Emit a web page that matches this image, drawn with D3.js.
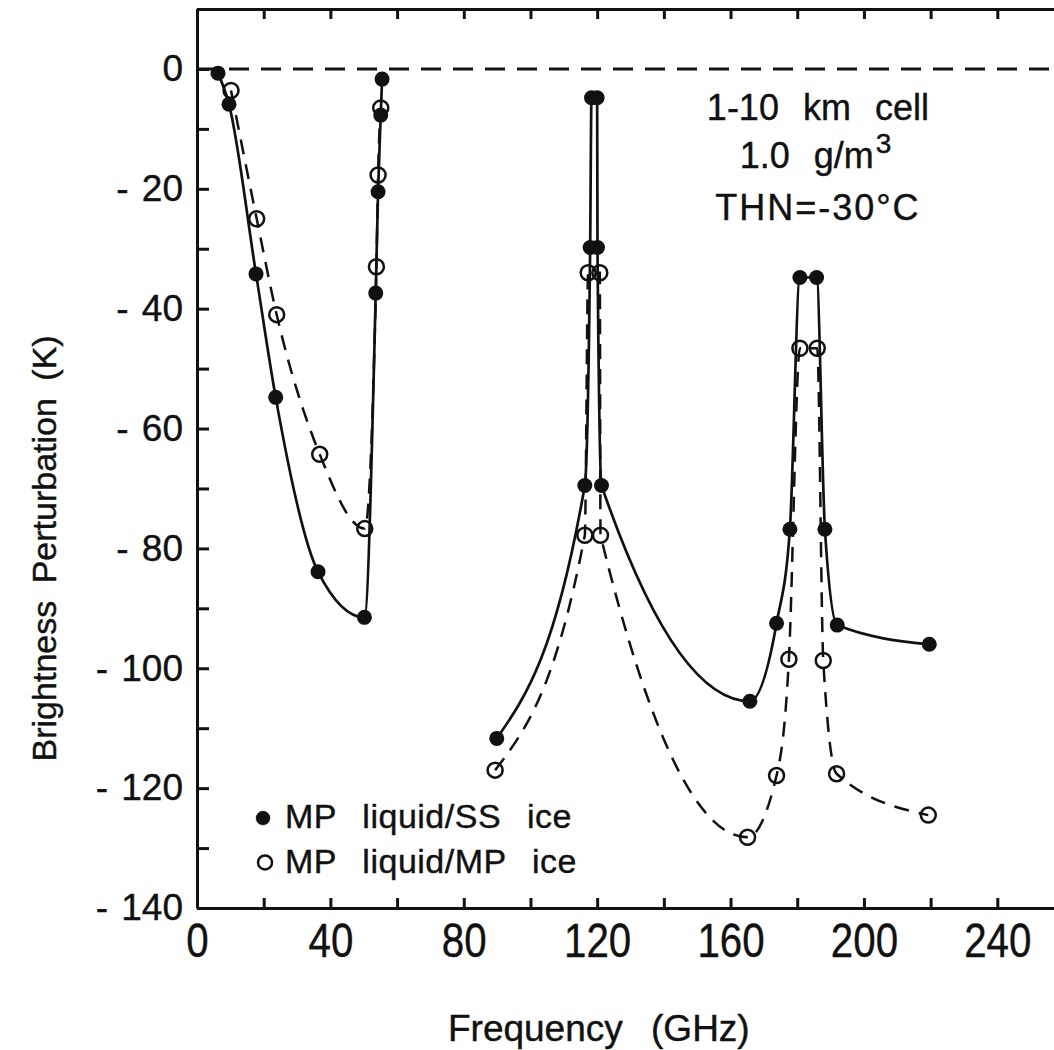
<!DOCTYPE html>
<html>
<head>
<meta charset="utf-8">
<script src="https://cdn.jsdelivr.net/npm/d3@7"></script>
<style>
    body { margin: 0; background: #fff; }
    svg { display: block; font-family: "Liberation Sans", Arial, Helvetica, sans-serif; }
</style>
</head>
<body>
<svg id="chart"></svg>
<script>
"use strict";

// MP liquid / SS ice (filled dots) - 50-60 GHz branch and the 118/183 GHz branch
var ssFreqLow = [6.3, 9.6, 17.7, 23.6, 36.3, 50.2, 53.6, 54.3, 55.1, 55.5];
var ssTbLow = [-0.7, -5.9, -34.2, -54.8, -83.9, -91.5, -37.4, -20.5, -7.7, -1.7];
var ssFreqHigh = [89.9, 116.3, 117.9, 118.3, 120.0, 120.1, 121.3, 165.8, 173.8, 177.8, 180.8, 185.8, 188.3, 192.0, 219.6];
var ssTbHigh = [-111.7, -69.5, -29.8, -4.8, -4.8, -29.8, -69.5, -105.5, -92.5, -76.8, -34.8, -34.8, -76.8, -92.8, -96.0];

// MP liquid / MP ice (open dots)
var mpFreqLow = [10.2, 17.9, 23.9, 36.8, 50.3, 53.8, 54.3, 55.1];
var mpTbLow = [-3.6, -25.0, -41.0, -64.3, -76.7, -33.0, -17.7, -6.5];
var mpFreqHigh = [89.4, 116.3, 117.3, 120.8, 121.0, 165.1, 173.8, 177.5, 180.8, 186.0, 187.8, 191.8, 219.3];
var mpTbHigh = [-117.0, -77.8, -34.0, -34.0, -77.8, -128.2, -117.9, -98.5, -46.6, -46.6, -98.7, -117.6, -124.5];

// axis ticks
var xTicks = d3.range(0, 241, 20);
var yTicks = d3.range(-140, 11, 10);

var noteLines = ["1-10 km cell", "1.0 g/m", "THN=-30\u00b0C"];
var legendLabels = ["MP liquid/SS ice", "MP liquid/MP ice"];

var width = 1054;
var height = 1050;

var svg = d3.select("svg")
    .attr("width", width)
    .attr("height", height);

// create scale objects
var xScale = d3.scaleLinear()
    .domain([0, 260])
    .range([197, 1064]);
var yScale = d3.scaleLinear()
    .domain([-140, 10])
    .range([908, 9]);

// zero reference line
svg.append("line")
    .attr("x1", xScale(0))
    .attr("x2", xScale(260))
    .attr("y1", yScale(0))
    .attr("y2", yScale(0))
    .style("stroke", "#111")
    .style("stroke-width", 3)
    .style("stroke-dasharray", "20,12");

// axes
var xAxis = d3.axisBottom(xScale)
    .tickValues(xTicks)
    .tickSizeInner(-10)
    .tickSizeOuter(0)
    .tickPadding(15)
    .tickFormat(d => d % 40 === 0 ? d : "");

var gx = svg.append("g")
    .attr("transform", "translate(0," + yScale(-140) + ")")
    .call(xAxis);
gx.selectAll("text")
    .attr("font-size", 48)
    .attr("transform", "scale(0.84,1)");

var gTop = svg.append("g")
    .attr("transform", "translate(0," + yScale(10) + ")")
    .call(d3.axisTop(xScale).tickValues(xTicks).tickSizeInner(-10).tickSizeOuter(0).tickFormat(""));

var yAxis = d3.axisLeft(yScale)
    .tickValues(yTicks)
    .tickSizeInner(-12)
    .tickSizeOuter(0)
    .tickPadding(14)
    .tickFormat(d => (d <= 0 && d % 20 === 0) ? (d < 0 ? "- " + Math.abs(d) : d) : "");

var gy = svg.append("g")
    .attr("transform", "translate(" + xScale(0) + ",0)")
    .call(yAxis);
gy.selectAll("text")
    .attr("font-size", 37)
    .style("word-spacing", "3px");

[gx, gTop, gy].forEach(function (g) {
    g.attr("font-family", null);
    g.selectAll("path, line").style("stroke", "#111").style("stroke-width", 3);
    g.selectAll("text").style("fill", "#111").style("stroke", "#111").style("stroke-width", 0.4);
});

// curves
var line = d3.line()
    .x(d => xScale(d[0]))
    .y(d => yScale(d[1]))
    .curve(d3.curveMonotoneX);

var ssLow = d3.zip(ssFreqLow, ssTbLow);
var ssHigh = d3.zip(ssFreqHigh, ssTbHigh);
var mpLow = d3.zip(mpFreqLow, mpTbLow);
var mpHigh = d3.zip(mpFreqHigh, mpTbHigh);

[mpLow, mpHigh].forEach(function (data) {
    svg.append("path")
        .attr("d", line(data))
        .style("fill", "none")
        .style("stroke", "#111")
        .style("stroke-width", 2.5)
        .style("stroke-dasharray", "15,10");
});

[ssLow, ssHigh].forEach(function (data) {
    svg.append("path")
        .attr("d", line(data))
        .style("fill", "none")
        .style("stroke", "#111")
        .style("stroke-width", 2.7);
});

// markers
svg.append("g")
    .selectAll("circle")
    .data(mpLow.concat(mpHigh))
    .enter()
    .append("circle")
    .attr("cx", d => xScale(d[0]))
    .attr("cy", d => yScale(d[1]))
    .attr("r", 7.5)
    .style("fill", "none")
    .style("stroke", "#111")
    .style("stroke-width", 2.5);

svg.append("g")
    .selectAll("circle")
    .data(ssLow.concat(ssHigh))
    .enter()
    .append("circle")
    .attr("cx", d => xScale(d[0]))
    .attr("cy", d => yScale(d[1]))
    .attr("r", 7.5)
    .style("fill", "#111");

// case annotation
var note = svg.append("g")
    .attr("font-size", 36)
    .attr("text-anchor", "middle")
    .style("fill", "#111")
    .style("stroke", "#111")
    .style("stroke-width", 0.4)
    .style("word-spacing", "14px");

note.append("text")
    .attr("x", xScale(186.2))
    .attr("y", yScale(-8.5))
    .text(noteLines[0]);
var note2 = note.append("text")
    .attr("x", xScale(185.5))
    .attr("y", yScale(-16.5))
    .text(noteLines[1]);
note2.append("tspan")
    .attr("font-size", 28)
    .attr("dx", 2)
    .attr("dy", -15)
    .text("3");
note.append("text")
    .attr("x", xScale(186.2))
    .attr("y", yScale(-25.2))
    .style("letter-spacing", "2px")
    .text(noteLines[2]);

// legend
var legend = svg.append("g")
    .attr("font-size", 34)
    .style("fill", "#111")
    .style("stroke", "#111")
    .style("stroke-width", 0.4)
    .style("word-spacing", "16px")
    .style("letter-spacing", "0.5px");

legend.append("circle")
    .attr("cx", xScale(19.8))
    .attr("cy", yScale(-125))
    .attr("r", 7)
    .style("fill", "#111");
legend.append("text")
    .attr("x", xScale(26.4))
    .attr("y", yScale(-126.7))
    .text(legendLabels[0]);

legend.append("circle")
    .attr("cx", xScale(20.4))
    .attr("cy", yScale(-132.4))
    .attr("r", 7)
    .style("fill", "none")
    .style("stroke", "#111")
    .style("stroke-width", 2.5);
legend.append("text")
    .attr("x", xScale(26.4))
    .attr("y", yScale(-134.2))
    .text(legendLabels[1]);

// axis titles
svg.append("text")
    .attr("x", xScale(120.5))
    .attr("y", 1041)
    .attr("text-anchor", "middle")
    .attr("font-size", 37)
    .style("word-spacing", "18px")
    .style("fill", "#111")
    .style("stroke", "#111")
    .style("stroke-width", 0.4)
    .text("Frequency (GHz)");

svg.append("text")
    .attr("transform", "translate(56," + yScale(-80) + ") rotate(-90)")
    .attr("text-anchor", "middle")
    .attr("font-size", 34)
    .style("word-spacing", "8px")
    .style("fill", "#111")
    .style("stroke", "#111")
    .style("stroke-width", 0.4)
    .text("Brightness Perturbation (K)");
</script>
</body>
</html>
